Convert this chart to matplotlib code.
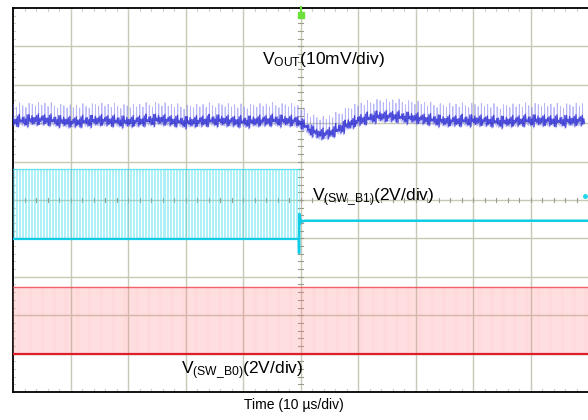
import numpy as np
import matplotlib
matplotlib.use("Agg")
import matplotlib.pyplot as plt

plt.rcParams['font.family'] = ['Liberation Sans', 'DejaVu Sans']
plt.rcParams['mathtext.fontset'] = 'custom'
plt.rcParams['mathtext.rm'] = 'Liberation Sans'
plt.rcParams['mathtext.it'] = 'Liberation Sans'

# ---- data (time in us, amplitude in screen divisions) ----
vout_t = [-50, -45, -40, -35, -30, -25, -20, -15, -10, -5, -1, 0, 1.5, 3, 4.5,
          6, 8, 10, 13, 16, 20, 25, 30, 35, 40, 45, 50]
vout_c = [2.08, 2.12, 2.05, 2.1, 2.06, 2.12, 2.05, 2.1, 2.06, 2.1, 2.08, 2.02,
          1.85, 1.74, 1.75, 1.84, 1.98, 2.1, 2.2, 2.2, 2.15, 2.08, 2.1, 2.06,
          2.1, 2.08, 2.1]
vout_ripple_period = 0.55
vout_ripple_up = 0.38
vout_ripple_down = -0.16
noise_pattern = [0.03, -0.05, 0.06, -0.02, -0.07, 0.04, 0.01, -0.04, 0.05, -0.03]

sw_b1_high = 0.81
sw_b1_low = -1.02
sw_b1_off = -0.54
sw_b1_period = 0.52
sw_b1_stop = -0.3
sw_b1_spike = [-0.3, -0.25, -0.2, -0.1, 0.0, 0.3, 0.8]
sw_b1_spike_v = [-1.02, -1.38, -0.36, -0.62, -0.5, -0.56, -0.54]

sw_b0_high = -2.27
sw_b0_low = -4.01
sw_b0_period = 0.38

labels = ["V$_{\\mathrm{OUT}}$(10mV/div)",
          "V$_{\\mathrm{(SW\\_B1)}}$(2V/div)",
          "V$_{\\mathrm{(SW\\_B0)}}$(2V/div)"]
label_t = [3.9, 12.6, -10.2]
label_y = [3.65, 0.08, -4.42]
xlabel = "Time (10 µs/div)"

# ---- figure ----
fig = plt.figure(figsize=(5.88, 4.20), dpi=100)
ax = fig.add_axes([13/588, 28/420, 575/588, 384/420])
ax.set_xlim(-50, 50)
ax.set_ylim(-5, 5)
ax.set_xticks([])
ax.set_yticks([])
for s in ['left', 'top', 'bottom']:
    ax.spines[s].set_linewidth(1.3)
    ax.spines[s].set_color('black')
ax.spines['right'].set_visible(False)

gcol = '#c6cab4'
for gx in range(-40, 50, 10):
    ax.axvline(gx, color=gcol, lw=1.0, zorder=0)
for gy in range(-4, 5):
    ax.axhline(gy, color=gcol, lw=1.0, zorder=0)
# minor ticks on centre lines and edges
for k in np.arange(-50, 50.01, 2):
    ax.plot([k, k], [-0.06, 0.06], color='#9a9d8c', lw=0.8, zorder=0)
    ax.plot([k, k], [4.93, 5.0], color='#d0d2c6', lw=0.8, zorder=0)
    ax.plot([k, k], [-5.0, -4.93], color='#d0d2c6', lw=0.8, zorder=0)
for k in np.arange(-5, 5.01, 0.2):
    ax.plot([-0.5, 0.5], [k, k], color='#9a9d8c', lw=0.8, zorder=0)
    ax.plot([-50, -49.6], [k, k], color='#d0d2c6', lw=0.8, zorder=0)

# ---- VOUT (blue) ----
n_rip = int(100 / vout_ripple_period)
tt, yy, tc, yc = [], [], [], []
for i in range(n_rip):
    t0 = -50 + i * vout_ripple_period
    c = np.interp(t0, vout_t, vout_c)
    nz = noise_pattern[i % len(noise_pattern)]
    nz2 = noise_pattern[(i + 3) % len(noise_pattern)]
    tt += [t0, t0 + 0.05, t0 + 0.1, t0 + 0.3]
    yy += [c + vout_ripple_down, c + vout_ripple_up + nz, c + nz, c + vout_ripple_down + nz]
    tc += [t0, t0 + 0.12, t0 + 0.27, t0 + 0.4]
    yc += [c + 0.08 + nz, c - 0.1 + nz2, c + 0.05 - nz, c - 0.12 + nz]
ax.plot(tt, yy, color='#6060f0', lw=0.6, alpha=0.45, zorder=3)
ax.plot(tc, yc, color='#2828d2', lw=0.9, alpha=0.8, zorder=4)

# ---- SW_B1 (cyan) ----
ts, ys = [], []
t0 = -50
i = 0
while t0 < sw_b1_stop:
    ts += [t0, t0, t0 + sw_b1_period * 0.5, t0 + sw_b1_period * 0.5]
    ys += [sw_b1_low, sw_b1_high, sw_b1_high, sw_b1_low]
    i += 1
    t0 = -50 + i * sw_b1_period
ax.plot(ts, ys, color='#40dff0', lw=0.6, alpha=0.5, zorder=3)
ax.plot([-50, sw_b1_stop], [sw_b1_high, sw_b1_high], color='#20d4ea', lw=0.9, alpha=0.6, zorder=3)
ax.plot([-50, sw_b1_stop], [sw_b1_low, sw_b1_low], color='#10cce6', lw=1.6, zorder=3)
ax.plot(sw_b1_spike + [50], sw_b1_spike_v + [sw_b1_off], color='#10cce6', lw=1.8, zorder=3)
ax.plot([49.5], [0.1], marker='o', ms=2.5, color='#20d4ea', zorder=5, clip_on=False)

# ---- SW_B0 (red) ----
tr, yr = [], []
n_r = int(100 / sw_b0_period)
for i in range(n_r + 1):
    t0 = -50 + i * sw_b0_period
    tr += [t0, t0, t0 + sw_b0_period * 0.5, t0 + sw_b0_period * 0.5]
    yr += [sw_b0_low, sw_b0_high, sw_b0_high, sw_b0_low]
ax.plot(tr, yr, color='#ff8088', lw=0.55, alpha=0.38, zorder=3)
ax.plot([-50, 50], [sw_b0_high, sw_b0_high], color='#ee3a44', lw=1.0, alpha=0.75, zorder=3)
ax.plot([-50, 50], [sw_b0_low, sw_b0_low], color='#e01e2a', lw=1.6, zorder=3)

# trigger marker
ax.plot([0], [4.82], marker='s', ms=5, color='#6ee03c', zorder=6, clip_on=False)
ax.plot([0, 0], [4.82, 5.02], color='#6ee03c', lw=1.5, zorder=6, clip_on=False)

for s, x, y in zip(labels, label_t, label_y):
    ax.text(x, y, s, fontsize=12.5, ha='center', va='center', color='black', zorder=10)

fig.text(294/588, (420 - 405)/420, xlabel, fontsize=10, ha='center', va='center')

fig.savefig('out.png', dpi=100)
